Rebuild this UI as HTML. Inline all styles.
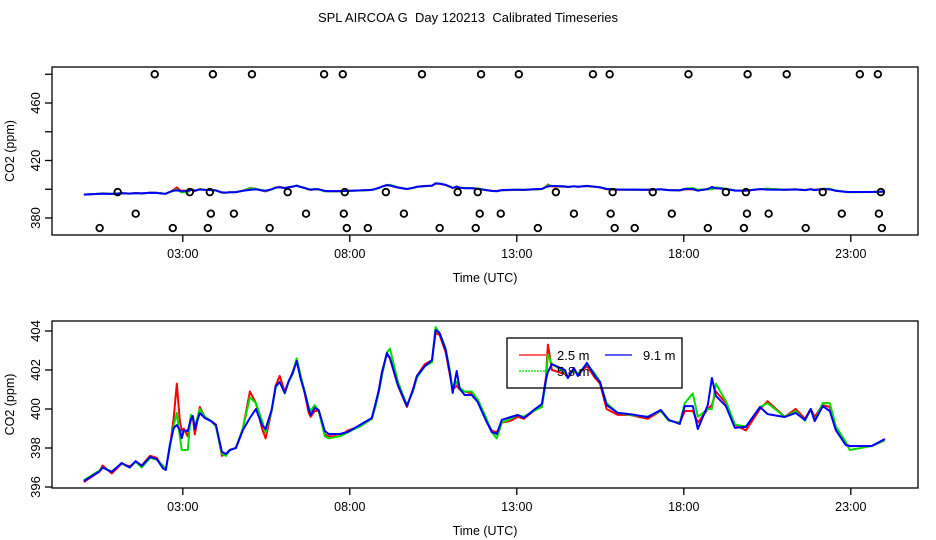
<!DOCTYPE html>
<html><head><meta charset="utf-8">
<style>
html,body{margin:0;padding:0;background:#fff;}
svg{display:block;font-family:"Liberation Sans",sans-serif;}
</style></head>
<body>
<svg id="chart" width="936" height="540" viewBox="0 0 936 540">
<text x="468" y="22" text-anchor="middle" font-size="13" style="white-space:pre">SPL AIRCOA G  Day 120213  Calibrated Timeseries</text>
<g id="top"></g>
<g id="bot"></g>
</svg>
<script>
const hours=[0.04,0.51,0.60,0.87,1.17,1.41,1.59,1.77,2.02,2.22,2.40,2.49,2.61,2.73,2.82,2.91,2.97,3.03,3.15,3.24,3.30,3.36,3.51,3.66,3.84,3.99,4.17,4.29,4.41,4.59,4.80,5.01,5.19,5.37,5.48,5.66,5.78,5.90,6.05,6.17,6.29,6.41,6.53,6.65,6.77,6.83,6.95,7.07,7.25,7.37,7.70,7.94,8.30,8.66,8.78,8.87,8.96,9.11,9.20,9.44,9.71,9.89,10.01,10.25,10.46,10.57,10.69,10.87,10.99,11.08,11.20,11.29,11.44,11.65,11.83,12.07,12.25,12.40,12.55,12.82,13.03,13.21,13.51,13.75,13.87,13.93,14.05,14.44,14.53,14.71,14.83,15.10,15.34,15.49,15.69,16.02,16.38,16.92,17.31,17.55,17.88,18.03,18.27,18.42,18.72,18.84,18.96,19.26,19.53,19.86,20.28,20.51,21.02,21.35,21.63,21.80,21.92,22.16,22.37,22.55,22.85,22.97,23.63,24.02];
const blue=[396.31,396.8,397.0,396.77,397.23,397.0,397.33,397.08,397.54,397.44,396.97,396.87,398.15,399.03,399.18,398.92,398.51,398.92,398.87,399.49,399.64,398.97,399.8,399.54,399.38,399.18,397.8,397.69,397.9,398.0,398.92,399.54,400.0,399.18,398.97,399.95,401.18,401.38,400.82,401.44,401.85,402.46,401.54,400.87,400.0,399.69,400.05,399.95,398.87,398.72,398.72,398.82,399.18,399.54,400.36,400.97,401.85,402.87,402.62,401.23,400.15,400.97,401.69,402.2,402.51,404.05,403.9,403.03,401.9,400.82,401.95,401.03,400.72,400.72,400.36,399.44,398.82,398.72,399.44,399.59,399.69,399.54,399.95,400.26,401.49,401.9,402.3,402.0,401.59,402.1,401.69,402.36,401.69,401.38,400.2,399.8,399.74,399.59,399.95,399.44,399.23,400.15,400.15,398.97,400.2,401.59,400.67,400.15,399.03,399.08,400.1,399.74,399.59,399.8,399.44,400.0,399.38,400.15,399.9,398.92,398.15,398.1,398.1,398.46];
const red=[396.25,396.8,397.1,396.7,397.2,397.05,397.3,397.1,397.6,397.5,397.0,396.9,398.0,399.6,401.3,399.4,398.9,399.0,398.6,399.4,399.6,398.7,400.1,399.6,399.4,399.2,397.6,397.7,397.9,398.0,399.0,400.9,400.3,399.0,398.5,399.9,401.2,401.7,400.9,401.4,401.9,402.5,401.6,400.8,399.8,399.6,399.9,399.9,398.7,398.6,398.6,398.9,399.1,399.5,400.3,401.0,401.9,402.8,402.6,401.2,400.1,401.0,401.7,402.3,402.5,403.9,403.8,402.9,401.8,401.0,401.2,401.0,400.9,400.8,400.4,399.5,398.9,398.8,399.3,399.4,399.6,399.5,399.9,400.2,401.6,403.3,402.0,401.8,401.6,402.0,401.8,402.2,401.6,401.3,400.0,399.7,399.7,399.5,399.9,399.4,399.3,399.9,399.9,399.3,400.0,400.2,400.9,400.3,399.2,398.9,400.0,400.4,399.6,400.0,399.5,400.0,399.6,400.2,400.1,399.0,398.2,398.1,398.1,398.4];
const green=[396.35,396.85,397.0,396.8,397.2,397.0,397.3,397.0,397.5,397.4,397.1,396.9,398.0,399.2,399.8,398.6,397.9,397.9,397.9,399.7,399.6,399.1,400.0,399.6,399.4,399.1,397.7,397.6,397.9,398.0,399.0,400.6,400.3,399.4,398.8,399.9,401.1,401.4,400.8,401.4,401.8,402.6,401.7,400.9,400.1,399.9,400.2,399.9,398.6,398.5,398.6,398.8,399.1,399.5,400.2,400.9,401.7,402.9,403.1,401.4,400.2,400.9,401.6,402.2,402.4,404.2,403.9,403.1,402.0,401.0,401.4,401.1,400.9,400.9,400.5,399.6,398.8,398.5,399.3,399.5,399.7,399.6,399.9,400.1,401.4,402.8,402.3,401.9,401.6,402.0,401.8,402.3,401.8,401.4,400.3,399.8,399.7,399.6,399.9,399.4,399.3,400.3,400.8,399.6,400.0,400.0,401.3,400.4,399.2,399.1,400.1,400.3,399.6,399.9,399.4,400.0,399.4,400.3,400.3,399.1,398.3,397.9,398.1,398.4];
const circleHours480=[2.16,3.90,5.07,7.23,7.79,10.16,11.93,13.06,15.28,15.78,18.14,19.91,21.08,23.27,23.81];
const circleHours398=[1.05,3.21,3.81,6.14,7.85,9.08,11.23,11.83,14.17,15.87,17.07,19.26,19.86,22.16,23.90];
const circleHours383=[1.59,3.84,4.53,6.69,7.82,9.62,11.89,12.52,14.71,15.81,17.64,19.89,20.54,22.73,23.84];
const circleHours373=[0.51,2.70,3.75,5.60,7.91,8.54,10.69,11.77,13.63,15.93,16.53,18.72,19.80,21.65,23.93];
const circleValues=[480,398,383,373];
const xTickHours=[3,8,13,18,23];
const xTickLabels=["03:00","08:00","13:00","18:00","23:00"];
const topYTicks=[380,400,420,440,460,480];
const topYLabels=["380","","420","","460",""];
const botYTicks=[396,398,400,402,404];
const botYLabels=["396","398","400","402","404"];

const NS="http://www.w3.org/2000/svg";
function mk(tag,attrs,parent){const e=document.createElementNS(NS,tag);for(const k in attrs)e.setAttribute(k,attrs[k]);parent.appendChild(e);return e;}
const L=52,R=918;
const xs=h=>182.8+(h-3)*33.4;

function panel(g,top,bot,yfun,ticks,labels){
  const box=mk('rect',{x:L,y:top,width:R-L,height:bot-top,fill:'none',stroke:'#000','stroke-width':1.3},g);
  
  
  ticks.forEach((t,i)=>{
    const y=yfun(t);
    const tl=mk('line',{x1:45,x2:L,y1:y,y2:y,stroke:'#000','stroke-width':1.3},g);
    
    
    if(labels[i]){
      const tx=mk('text',{x:0,y:0,'font-size':13,'text-anchor':'middle',transform:`translate(40,${y}) rotate(-90)`},g);
      tx.textContent=labels[i];
      
      
    }
  });
  xTickHours.forEach((h,i)=>{
    const x=xs(h);
    const tl=mk('line',{x1:x,x2:x,y1:bot,y2:bot+7,stroke:'#000','stroke-width':1.3},g);
    
    
    const tx=mk('text',{x:x,y:bot+23,'font-size':12.5,'text-anchor':'middle'},g);
    tx.textContent=xTickLabels[i];
    
    
  });
  const xl=mk('text',{x:485,y:bot+47,'font-size':12.5,'text-anchor':'middle'},g);
  xl.textContent='Time (UTC)';
  
  
  const yl=mk('text',{x:0,y:0,'font-size':12.5,'text-anchor':'middle',transform:`translate(14,${(top+bot)/2}) rotate(-90)`},g);
  yl.textContent='CO2 (ppm)';
  
  
}
function series(g,vals,yfun,color,name){
  const d=hours.map((h,i)=>(i?'L':'M')+xs(h).toFixed(1)+','+yfun(vals[i]).toFixed(1)).join(' ');
  const p=mk('path',{d:d,fill:'none',stroke:color,'stroke-width':2,'stroke-linejoin':'round'},g);
  
  
}
const gT=document.getElementById('top');
const yT=v=>218-(v-380)*1.4375;
panel(gT,67,235,yT,topYTicks,topYLabels);
series(gT,red,yT,'#f00','series-2-5m');
series(gT,green,yT,'#0d0','series-5-8m');
series(gT,blue,yT,'#00f','series-9-1m');
[circleHours480,circleHours398,circleHours383,circleHours373].forEach((arr,k)=>{
  arr.forEach(h=>{
    const c=mk('circle',{cx:xs(h),cy:yT(circleValues[k]),r:3.3,fill:'none',stroke:'#000','stroke-width':1.8},gT);
    
    
  });
});
const gB=document.getElementById('bot');
const yB=v=>487-(v-396)*19.5;
panel(gB,321,488,yB,botYTicks,botYLabels);
series(gB,red,yB,'#f00','series-2-5m');
series(gB,green,yB,'#0d0','series-5-8m');
series(gB,blue,yB,'#00f','series-9-1m');
const lg=mk('g',{},gB);


const lr=mk('rect',{x:507,y:338,width:175,height:50,fill:'none',stroke:'#000','stroke-width':1.3},lg);


const entries=[[519,355,'#f00','2.5 m',null],[605,355,'#00f','9.1 m',null],[519,371,'#0d0','5.8 m','2,1']];
entries.forEach(e=>{
  const l=mk('line',{x1:e[0],x2:e[0]+27,y1:e[1],y2:e[1],stroke:e[2],'stroke-width':1.3},lg);
  if(e[4])l.setAttribute('stroke-dasharray',e[4]);
  
  
  const t=mk('text',{x:e[0]+38,y:e[1]+5,'font-size':13},lg);
  t.textContent=e[3];
  
  
});
</script>
</body></html>
